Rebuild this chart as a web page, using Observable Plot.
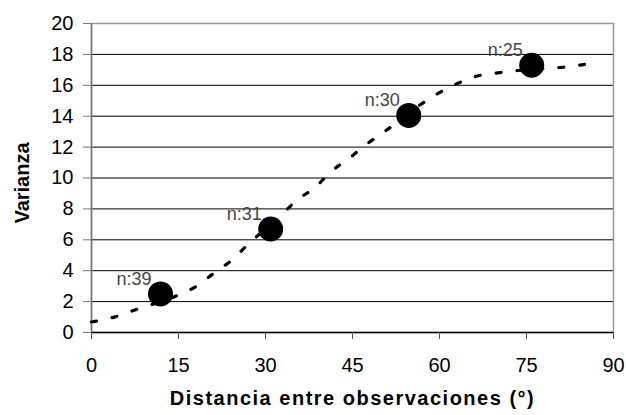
<!DOCTYPE html>
<html>
<head>
<meta charset="utf-8">
<script src="https://cdn.jsdelivr.net/npm/d3@7"></script>
<script src="https://cdn.jsdelivr.net/npm/@observablehq/plot@0.6"></script>
<style>
  html, body { margin: 0; padding: 0; background: #fff; }
  svg { font-family: Arial, "Liberation Sans", sans-serif; }
</style>
</head>
<body>
<div id="chart"></div>
<script>
// Observed points
const distancia = [11.9, 30.9, 54.7, 75.9];
const varianza = [2.5, 6.7, 14.05, 17.3];
const nLabels = ["n:39", "n:31", "n:30", "n:25"];

// Fitted model curve
const curveX = [0, 4.3, 7.6, 14.5, 18.1, 21.1, 24.1, 26.9, 32.7, 35.5, 38.6, 41.3, 44.3, 47.3, 50.3, 56.5, 59.5, 63, 66.5, 70, 73.5, 81.3, 85];
const curveY = [0.68, 1.04, 1.47, 2.35, 3.0, 3.84, 4.66, 5.67, 7.6, 8.59, 9.41, 10.42, 11.24, 12.15, 12.94, 14.69, 15.42, 16.1, 16.6, 16.8, 16.96, 17.17, 17.35];

const xTicks = [0, 15, 30, 45, 60, 75, 90];
const yTicks = [0, 2, 4, 6, 8, 10, 12, 14, 16, 18, 20];
const xTitle = "Distancia entre observaciones (°)";
const yTitle = "Varianza";

const points = distancia.map((d, i) => ({x: d, y: varianza[i], label: nLabels[i]}));
const curve = curveX.map((d, i) => ({x: d, y: curveY[i]}));

const chart = Plot.plot({
  width: 626,
  height: 415,
  marginLeft: 91,
  marginRight: 13,
  marginTop: 23,
  marginBottom: 83,
  style: {fontFamily: "Arial, 'Liberation Sans', sans-serif", background: "#fff"},
  x: {domain: [0, 90]},
  y: {domain: [0, 20]},
  marks: [
    Plot.ruleY(yTicks.filter(v => v > 0 && v < 20), {stroke: "#000", strokeWidth: 1, strokeOpacity: 1}),
    Plot.frame({stroke: "#999", strokeWidth: 1.5}),
    Plot.ruleX([0], {stroke: "#777", strokeWidth: 1.5}),
    Plot.ruleY([0], {stroke: "#000", strokeWidth: 1.5}),
    Plot.axisY({ticks: yTicks, tickSize: 8, tickPadding: 10, fontSize: 20, label: null, stroke: "#777", color: "#000"}),
    Plot.axisX({ticks: xTicks, tickSize: 7, tickPadding: 18, fontSize: 20, label: null, stroke: "#555", color: "#000"}),
    Plot.line(curve, {x: "x", y: "y", curve: "monotone-x", stroke: "#000", strokeWidth: 3.2, strokeDasharray: "5,16"}),
    Plot.dot(points, {x: "x", y: "y", r: 12.5, fill: "#000", stroke: "none"}),
    Plot.text(points, {x: "x", y: "y", text: "label", textAnchor: "end", dx: -9, dy: -15, fontSize: 18, fill: "#444"}),
    Plot.text([xTitle], {frameAnchor: "bottom", textAnchor: "middle", dy: 72, fontSize: 20, fontWeight: "bold", fill: "#000"}),
    Plot.text([yTitle], {frameAnchor: "left", textAnchor: "middle", dx: -69, dy: 5, rotate: -90, fontSize: 20, fontWeight: "bold", fill: "#000"})
  ]
});
// widen the x title letter spacing like the reference
chart.querySelectorAll("text").forEach(t => {
  if (t.textContent === xTitle) t.setAttribute("letter-spacing", "1.5px");
});
document.getElementById("chart").appendChild(chart);
</script>
</body>
</html>
